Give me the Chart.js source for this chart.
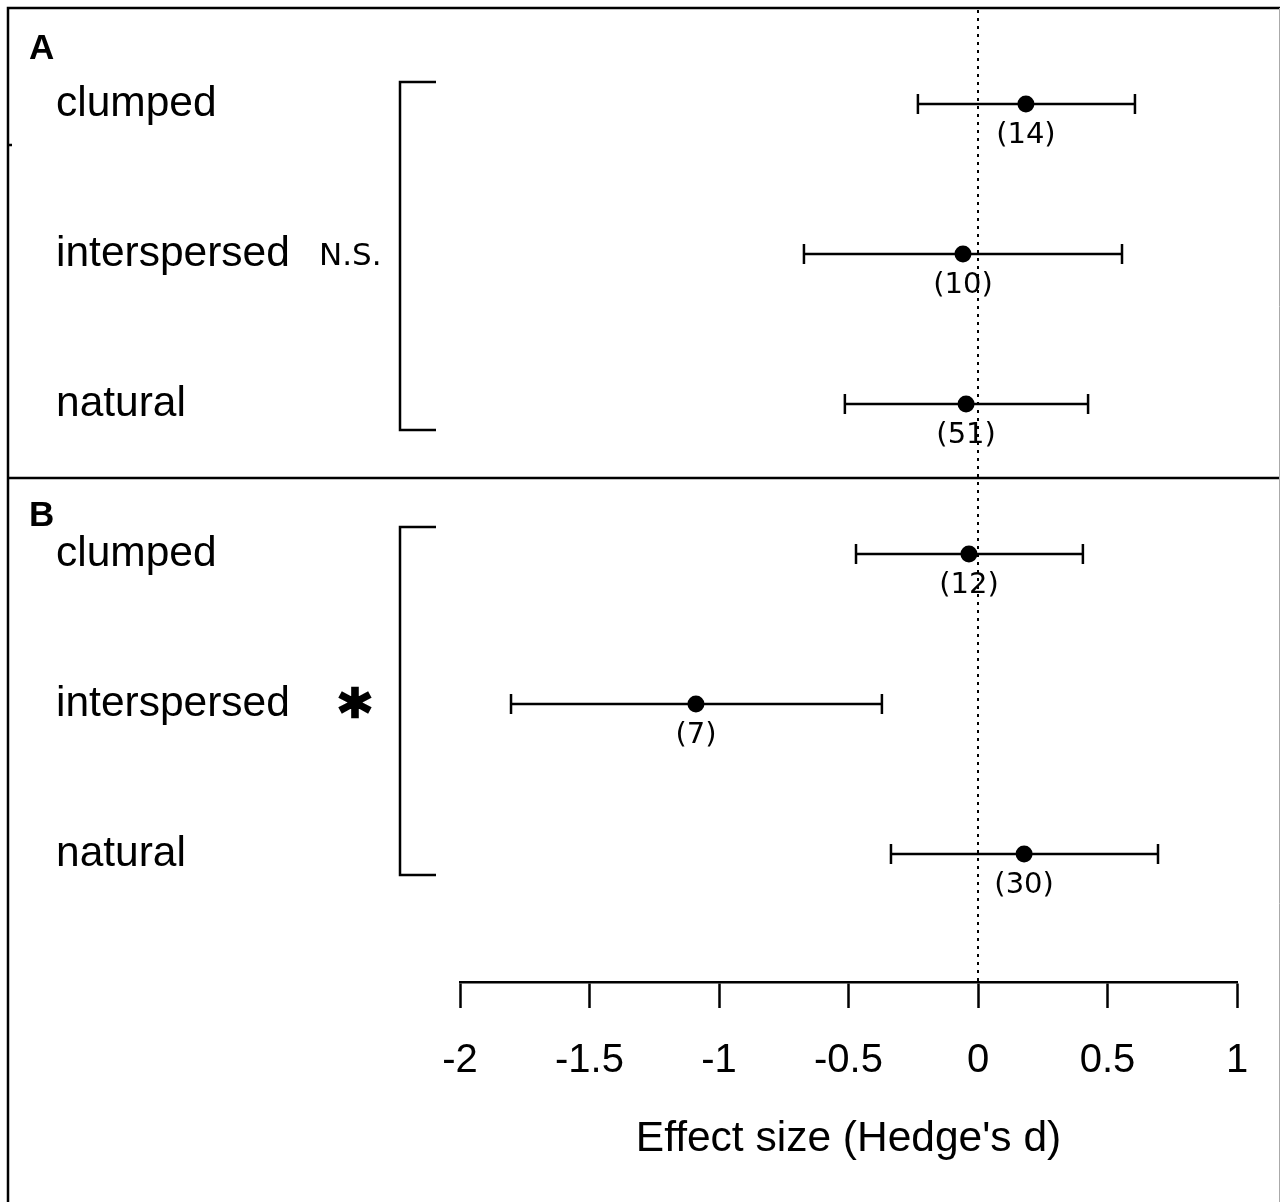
<!DOCTYPE html>
<html>
<head>
<meta charset="utf-8">
<script src="https://cdn.jsdelivr.net/npm/chart.js@4.4.1/dist/chart.umd.min.js"></script>
<style>
  html, body { margin: 0; padding: 0; background: #fff; }
  #wrap { width: 1280px; height: 1202px; position: relative; }
</style>
</head>
<body>
<div id="wrap"><canvas id="forest_chart"></canvas></div>
<script>
// rows, top to bottom
var panels = ['A', 'A', 'A', 'B', 'B', 'B'];
var habitats = ['clumped', 'interspersed', 'natural', 'clumped', 'interspersed', 'natural'];
var effect = [0.185, -0.058, -0.046, -0.035, -1.089, 0.178];
var ciLow = [-0.232, -0.672, -0.514, -0.471, -1.803, -0.336];
var ciHigh = [0.606, 0.556, 0.425, 0.405, -0.371, 0.695];
var nStudies = [14, 10, 51, 12, 7, 30];
var significance = ['N.S.', '*'];
var xTicks = [-2, -1.5, -1, -0.5, 0, 0.5, 1];

var sansFont = "'Liberation Sans', Arial, sans-serif";
var dejaFont = "'DejaVu Sans', sans-serif";

Chart.defaults.font.family = sansFont;
Chart.defaults.color = '#000';

var forestPlugin = {
    id: 'forest',
    beforeDatasetsDraw: function (chart) {
        var ctx = chart.ctx;
        var xs = chart.scales.x, ys = chart.scales.y;
        ctx.save();
        ctx.strokeStyle = '#000';
        ctx.lineWidth = 2.5;
        for (var i = 0; i < effect.length; i++) {
            var y = ys.getPixelForValue(i);
            var x1 = xs.getPixelForValue(ciLow[i]);
            var x2 = xs.getPixelForValue(ciHigh[i]);
            ctx.beginPath();
            ctx.moveTo(x1, y); ctx.lineTo(x2, y);
            ctx.moveTo(x1, y - 10); ctx.lineTo(x1, y + 10);
            ctx.moveTo(x2, y - 10); ctx.lineTo(x2, y + 10);
            ctx.stroke();
        }
        ctx.restore();
    },
    afterDatasetsDraw: function (chart) {
        var ctx = chart.ctx;
        var xs = chart.scales.x, ys = chart.scales.y;
        var W = chart.width, H = chart.height;
        ctx.save();
        ctx.fillStyle = '#000';
        ctx.strokeStyle = '#000';

        // frame + panel divider
        ctx.lineWidth = 2.5;
        ctx.beginPath();
        ctx.moveTo(8, H); ctx.lineTo(8, 8); ctx.lineTo(W, 8);
        var divY = (ys.getPixelForValue(2) + ys.getPixelForValue(3)) / 2 - 1;
        ctx.moveTo(8, divY); ctx.lineTo(W, divY);
        ctx.moveTo(8, 145); ctx.lineTo(12, 145);
        ctx.stroke();
        ctx.strokeStyle = '#aaa';
        ctx.lineWidth = 1;
        ctx.beginPath();
        ctx.moveTo(W - 0.5, 8); ctx.lineTo(W - 0.5, H);
        ctx.stroke();
        ctx.strokeStyle = '#000';

        // n labels under points
        ctx.font = '29px ' + dejaFont;
        ctx.textAlign = 'center';
        ctx.textBaseline = 'middle';
        for (var i = 0; i < effect.length; i++) {
            ctx.fillText('(' + nStudies[i] + ')', xs.getPixelForValue(effect[i]), ys.getPixelForValue(i) + 31);
        }

        // row labels
        ctx.font = '42.5px ' + sansFont;
        ctx.textAlign = 'left';
        for (var i = 0; i < habitats.length; i++) {
            ctx.fillText(habitats[i], 56, ys.getPixelForValue(i));
        }

        // panel letters
        ctx.font = 'bold 35px ' + sansFont;
        ctx.fillText('A', 29, ys.getPixelForValue(0) - 55);
        ctx.fillText('B', 29, ys.getPixelForValue(3) - 38);

        // brackets + significance
        ctx.lineWidth = 2.5;
        var brackets = [[0, 2, -22, 26], [3, 5, -27, 21]];
        brackets.forEach(function (b, k) {
            var t = ys.getPixelForValue(b[0]) + b[2];
            var bt = ys.getPixelForValue(b[1]) + b[3];
            ctx.beginPath();
            ctx.moveTo(436, t); ctx.lineTo(400, t); ctx.lineTo(400, bt); ctx.lineTo(436, bt);
            ctx.stroke();
            var mid = ys.getPixelForValue((b[0] + b[1]) / 2);
            if (k === 0) {
                ctx.font = '31px ' + dejaFont;
                ctx.textAlign = 'left';
                ctx.fillText(significance[0], 319, mid + 3);
            } else {
                ctx.font = 'bold 62px ' + dejaFont;
                ctx.textAlign = 'center';
                ctx.lineWidth = 2.5;
                ctx.fillText(significance[1], 355, mid + 14);
                ctx.strokeText(significance[1], 355, mid + 14);
            }
        });

        // dotted zero line
        var x0 = xs.getPixelForValue(0);
        ctx.lineWidth = 2;
        ctx.setLineDash([3, 5]);
        ctx.beginPath();
        ctx.moveTo(x0, 10); ctx.lineTo(x0, chart.chartArea.bottom);
        ctx.stroke();
        ctx.restore();
    }
};

var points = effect.map(function (v, i) { return { x: v, y: i }; });

new Chart(document.getElementById('forest_chart').getContext('2d'), {
    type: 'scatter',
    data: {
        datasets: [{
            label: 'Effect size',
            data: points,
            pointRadius: 8.5,
            pointHoverRadius: 8.5,
            backgroundColor: '#000',
            borderColor: '#000',
            borderWidth: 0
        }]
    },
    options: {
        responsive: true,
        maintainAspectRatio: false,
        animation: false,
        events: [],
        layout: { padding: { left: 460, right: 43, top: 29, bottom: 0 } },
        plugins: { legend: { display: false }, tooltip: { enabled: false } },
        scales: {
            x: {
                type: 'linear',
                min: -2,
                max: 1,
                afterBuildTicks: function (scale) {
                    scale.ticks = xTicks.map(function (v) { return { value: v }; });
                },
                afterFit: function (scale) { scale.height = 220; },
                border: { display: true, color: '#000', width: 2.5 },
                grid: { drawOnChartArea: false, drawTicks: true, tickLength: 26, tickColor: '#000', tickWidth: 2.5 },
                ticks: {
                    color: '#000',
                    font: { size: 40, family: sansFont },
                    padding: 29,
                    maxRotation: 0,
                    autoSkip: false,
                    callback: function (v) { return String(v); }
                },
                title: {
                    display: true,
                    text: "Effect size (Hedge's d)",
                    color: '#000',
                    font: { size: 42.5, family: sansFont },
                    padding: { top: 0, bottom: 37 }
                }
            },
            y: {
                type: 'linear',
                display: false,
                reverse: true,
                min: -0.5,
                max: 5.8533
            }
        }
    },
    plugins: [forestPlugin]
});
</script>
</body>
</html>
